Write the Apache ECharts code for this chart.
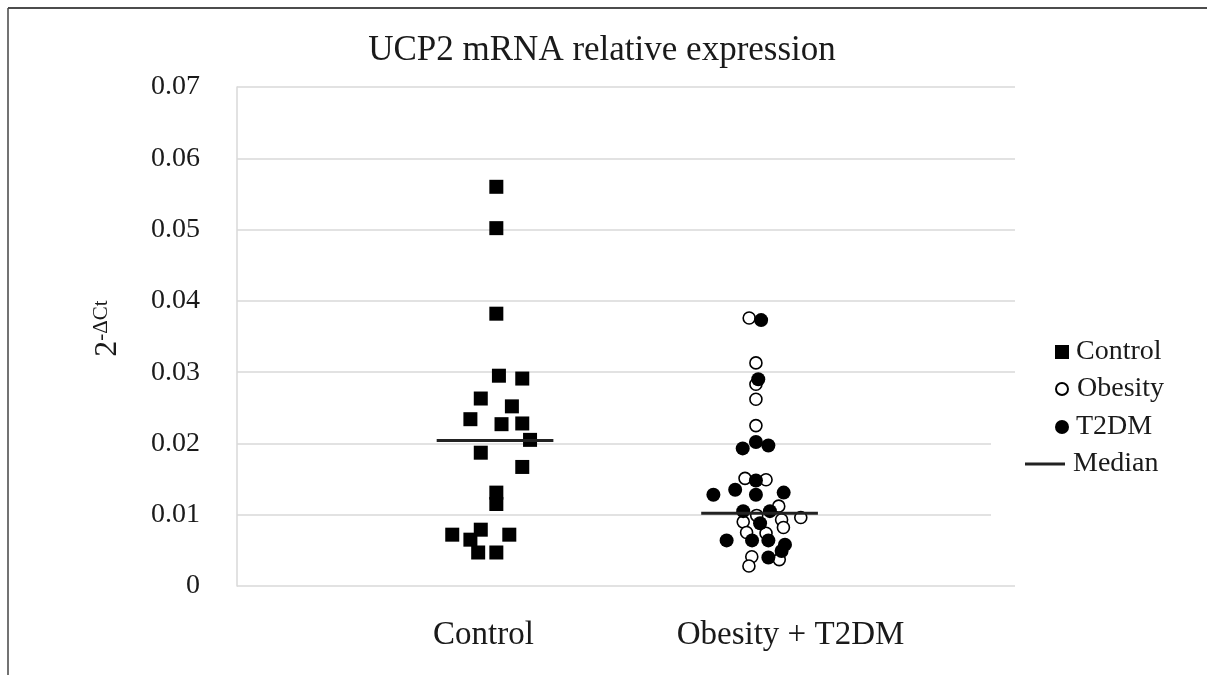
<!DOCTYPE html>
<html>
<head>
<meta charset="utf-8">
<script src="https://cdn.jsdelivr.net/npm/echarts@6/dist/echarts.min.js"></script>
<style>html,body{margin:0;padding:0;background:#fff}#c{width:1207px;height:675px}</style>
</head>
<body>
<div id="c"></div>
<script>
// ---- data ----
var categories = ['Control', 'Obesity + T2DM'];
var yTicks = [0, 0.01, 0.02, 0.03, 0.04, 0.05, 0.06, 0.07];

var controlX = [1.00, 1.00, 1.00, 1.01, 1.10, 0.94, 1.06, 0.90, 1.02, 1.10, 1.13, 0.94, 1.10, 1.00, 1.00, 0.83, 0.94, 0.90, 1.05, 0.93, 1.00];
var controlY = [0.0560, 0.0502, 0.0382, 0.0295, 0.0291, 0.0263, 0.0252, 0.0234, 0.0227, 0.0228, 0.0205, 0.0187, 0.0167, 0.0131, 0.0115, 0.0072, 0.0079, 0.0065, 0.0072, 0.0047, 0.0047];

var obesityX = [1.975, 2.001, 2.001, 2.001, 2.001, 1.959, 2.040, 2.089, 2.004, 1.952, 2.100, 2.107, 2.174, 1.965, 2.040, 2.091, 1.985, 1.974];
var obesityY = [0.0376, 0.0313, 0.0283, 0.0262, 0.0225, 0.0151, 0.0149, 0.0112, 0.0099, 0.0090, 0.0093, 0.0082, 0.0096, 0.0075, 0.0074, 0.0037, 0.0041, 0.0028];

var t2dmX = [2.021, 2.010, 2.001, 1.950, 2.049, 2.001, 1.837, 1.921, 2.001, 2.108, 1.952, 2.055, 2.017, 1.888, 1.986, 2.049, 2.113, 2.100, 2.049];
var t2dmY = [0.0373, 0.0290, 0.0202, 0.0193, 0.0197, 0.0148, 0.0128, 0.0135, 0.0128, 0.0131, 0.0105, 0.0105, 0.0088, 0.0064, 0.0064, 0.0064, 0.0058, 0.0049, 0.0040];

var medianControlX = [0.77, 1.22];
var medianControlY = [0.0204, 0.0204];
var medianObT2X = [1.79, 2.24];
var medianObT2Y = [0.0102, 0.0102];

function zip(xs, ys) { return xs.map(function (x, i) { return [x, ys[i]]; }); }

var FONT = '"Liberation Serif", "Times New Roman", serif';
var TXT = '#1a1a1a';
var GRID = '#d9d9d9';

var chart = echarts.init(document.getElementById('c'));

function legendBox(name, icon, left, top, w, h, padLeft) {
  return {
    data: [{ name: name, icon: icon }],
    orient: 'vertical', left: left, top: top, padding: 0,
    itemWidth: w, itemHeight: h, selectedMode: false,
    textStyle: { fontFamily: FONT, fontSize: 28, color: TXT, padding: [0, 0, 0, padLeft] }
  };
}

chart.setOption({
  animation: false,
  backgroundColor: '#fff',
  title: {
    text: 'UCP2 mRNA relative expression',
    left: 597, top: 28, textAlign: 'center',
    textStyle: { fontFamily: FONT, fontSize: 35, fontWeight: 'normal', color: TXT }
  },
  legend: [
    legendBox('Control', 'rect', 1055, 338, 14, 14, 2),
    legendBox('Obesity', 'circle', 1055, 375, 12, 12, 4),
    legendBox('T2DM', 'circle', 1055, 413, 14, 14, 2),
    legendBox('Median', 'rect', 1025, 450, 40, 3, 3)
  ],
  grid: [
    { left: 237, right: 192, top: 87, bottom: 89 },
    { left: 330, width: 614, top: 87, bottom: 89 }
  ],
  xAxis: [
    { type: 'value', gridIndex: 0, min: 0, max: 3, show: false },
    {
      type: 'category', gridIndex: 1, data: categories,
      axisLine: { show: false }, axisTick: { show: false }, splitLine: { show: false },
      axisLabel: { margin: 33, fontFamily: FONT, fontSize: 33, color: TXT }
    }
  ],
  yAxis: [
    {
      type: 'value', gridIndex: 0, min: 0, max: 0.07, interval: 0.01,
      axisLine: { show: true, lineStyle: { color: GRID, width: 1.5 } },
      axisTick: { show: false },
      splitLine: { show: true, lineStyle: { color: GRID, width: 1.5 } },
      axisLabel: {
        margin: 37, fontFamily: FONT, fontSize: 28, color: TXT,
        formatter: function (v) { return v === 0 ? '0' : v.toFixed(2); }
      },
      name: '{a|2}{b|-ΔCt}',
      nameLocation: 'middle', nameRotate: 90, nameGap: 112,
      nameTextStyle: {
        fontFamily: FONT, color: TXT,
        rich: {
          a: { fontFamily: FONT, fontSize: 32, color: TXT, lineHeight: 34, padding: [0, 0, 0, 16] },
          b: { fontFamily: FONT, fontSize: 21, color: TXT, verticalAlign: 'top', lineHeight: 34 }
        }
      }
    },
    { type: 'value', gridIndex: 1, show: false }
  ],
  graphic: [
    { type: 'rect', shape: { x: 991, y: 430, width: 30, height: 95 }, style: { fill: '#fff' }, z: 50 },
    { type: 'line', shape: { x1: 8, y1: 8, x2: 1207, y2: 8 }, style: { stroke: '#111', lineWidth: 1.5 }, z: 60 },
    { type: 'line', shape: { x1: 8, y1: 8, x2: 8, y2: 675 }, style: { stroke: '#444', lineWidth: 1.5 }, z: 60 }
  ],
  series: [
    {
      name: 'Control', type: 'scatter', xAxisIndex: 0, yAxisIndex: 0,
      symbol: 'rect', symbolSize: 14, data: zip(controlX, controlY),
      itemStyle: { color: '#000', opacity: 1 }, z: 3
    },
    {
      name: 'Obesity', type: 'scatter', xAxisIndex: 0, yAxisIndex: 0,
      symbol: 'circle', symbolSize: 12, data: zip(obesityX, obesityY),
      itemStyle: { color: '#fff', borderColor: '#000', borderWidth: 1.6, opacity: 1 }, z: 3
    },
    {
      name: 'T2DM', type: 'scatter', xAxisIndex: 0, yAxisIndex: 0,
      symbol: 'circle', symbolSize: 14, data: zip(t2dmX, t2dmY),
      itemStyle: { color: '#000', opacity: 1 }, z: 4
    },
    {
      name: 'Median', type: 'line', xAxisIndex: 0, yAxisIndex: 0,
      symbol: 'none', data: zip(medianControlX, medianControlY),
      itemStyle: { color: '#222' }, lineStyle: { color: '#222', width: 3 }, z: 5
    },
    {
      name: 'Median', type: 'line', xAxisIndex: 0, yAxisIndex: 0,
      symbol: 'none', data: zip(medianObT2X, medianObT2Y),
      itemStyle: { color: '#222' }, lineStyle: { color: '#222', width: 3 }, z: 5
    }
  ]
});
</script>
</body>
</html>
